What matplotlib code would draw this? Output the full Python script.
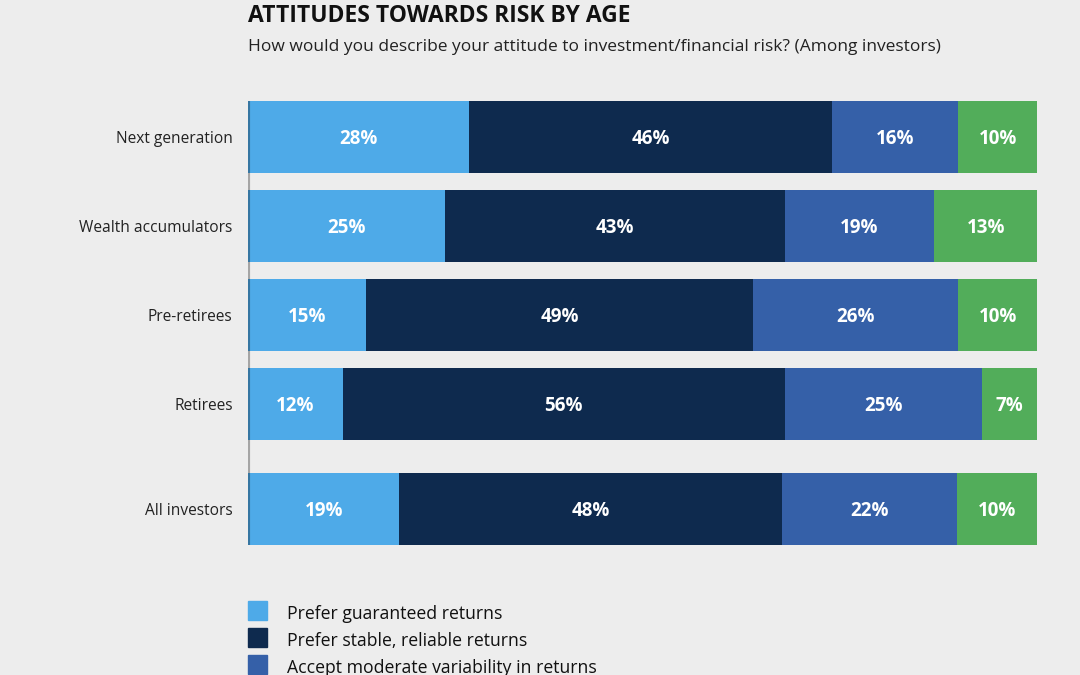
import matplotlib
matplotlib.use("Agg")
import matplotlib.pyplot as plt
from matplotlib.patches import Rectangle

# Survey data, share of investors in each risk attitude (%)
groups = ["Next generation", "Wealth accumulators", "Pre-retirees", "Retirees", "All investors"]
attitudes = [
    "Prefer guaranteed returns",
    "Prefer stable, reliable returns",
    "Accept moderate variability in returns",
]
guaranteed = [28, 25, 15, 12, 19]
stable = [46, 43, 49, 56, 48]
moderate = [16, 19, 26, 25, 22]
higher = [10, 13, 10, 7, 10]

COLORS = ["#4eaae8", "#0e2a4e", "#3560a8", "#52ad5a"]
BG = "#ededed"
FONT = "Open Sans"

fig = plt.figure(figsize=(10.8, 6.75), dpi=100, facecolor=BG)
ax = fig.add_axes([248 / 1080, 1 - 545 / 675, 789 / 1080, 444 / 675], facecolor=BG)

ypos = [0, 1, 2, 3, 4.18]
height = 0.81
series = [guaranteed, stable, moderate, higher]
left = [0.0] * len(groups)
totals = [sum(v) for v in zip(*series)]
for vals, color in zip(series, COLORS):
    widths = [v / t * 100 for v, t in zip(vals, totals)]
    ax.barh(ypos, widths, left=left, height=height, color=color, linewidth=0)
    for y, l, w, v in zip(ypos, left, widths, vals):
        ax.text(l + w / 2, y + 0.02, f"{v}%", ha="center", va="center", color="white",
                fontsize=13.5, fontweight="bold", family=FONT)
    left = [l + w for l, w in zip(left, widths)]

# shadow along the left edge of the bars
ax.axvline(0, color="black", alpha=0.3, linewidth=3)
ax.set_xlim(0, 100)
ax.set_ylim(4.18 + height / 2, -height / 2)
ax.set_yticks(ypos)
ax.set_yticklabels(groups, family=FONT, fontsize=11.2, color="#222222")
ax.tick_params(axis="y", length=0, pad=11)
ax.set_xticks([])
for s in ax.spines.values():
    s.set_visible(False)

fig.text(248 / 1080, 1 - 22 / 675, "ATTITUDES TOWARDS RISK BY AGE", family=FONT,
         fontsize=16.5, fontweight="bold", color="#111111", va="baseline")
fig.text(248 / 1080, 1 - 51 / 675,
         "How would you describe your attitude to investment/financial risk? (Among investors)",
         family=FONT, fontsize=12.5, color="#222222", va="baseline")

# legend (fourth entry falls below the visible area)
for i, (label, color) in enumerate(zip(attitudes, COLORS)):
    top = 601 + i * 27
    fig.patches.append(Rectangle((248 / 1080, 1 - (top + 19) / 675), 19 / 1080, 19 / 675,
                                 transform=fig.transFigure, color=color))
    fig.text(287 / 1080, 1 - (top + 13) / 675, label, family=FONT, fontsize=12.7,
             color="#111111", va="center")

fig.savefig("out.png", dpi=100, facecolor=BG)
